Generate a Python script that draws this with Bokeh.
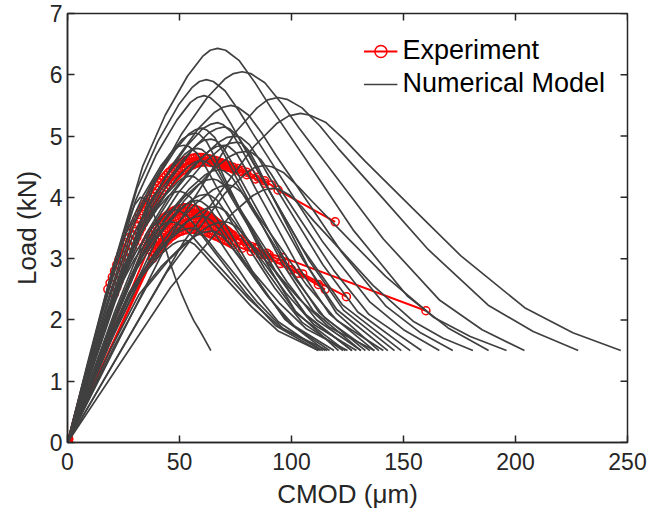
from bokeh.plotting import figure
from bokeh.models import Range1d, FixedTicker, Legend, LegendItem, ColumnDataSource
from bokeh.embed import file_html
from bokeh.resources import INLINE

# ---------------- data ----------------
x_ticks = [0, 50, 100, 150, 200, 250]
y_ticks = [0, 1, 2, 3, 4, 5, 6, 7]

# Experimental curves: (CMOD um, load kN) pairs
exp1 = [(0, 0), (0.1, 0.01), (0.2, 0.03), (0.4, 0.06), (18, 2.50), (19, 2.60), (20, 2.70), (21, 2.80), (22, 2.90),
        (23, 2.99), (24, 3.08), (25, 3.17), (26, 3.26), (27, 3.34), (28, 3.42), (29, 3.50), (30, 3.57), (31, 3.65),
        (32, 3.72), (33, 3.78), (34, 3.85), (35, 3.91), (36, 3.97), (37, 4.03), (38, 4.09), (39, 4.14), (40, 4.19),
        (41, 4.24), (42, 4.28), (43, 4.32), (44, 4.36), (45, 4.40), (46, 4.43), (47, 4.47), (48, 4.50), (49, 4.52),
        (50, 4.55), (51, 4.57), (52, 4.59), (53, 4.60), (54, 4.62), (55, 4.63), (56, 4.64), (57, 4.645), (58, 4.65),
        (59, 4.65), (60, 4.65), (61, 4.64), (62, 4.64), (63, 4.63), (64, 4.62), (65, 4.61), (66, 4.60), (67, 4.59),
        (68, 4.57), (69, 4.56), (70, 4.55), (71, 4.53), (72, 4.52), (74, 4.49), (76, 4.47), (78, 4.44), (80, 4.41),
        (82, 4.38), (85, 4.33), (88, 4.27), (91, 4.20), (94, 4.12), (119.5, 3.60)]
exp2 = [(0, 0), (0.2, 0.02), (0.5, 0.06), (21, 2.43), (22, 2.53), (23, 2.63), (24, 2.73), (25, 2.83), (26, 2.92),
        (27, 3.01), (28, 3.10), (29, 3.19), (30, 3.27), (31, 3.35), (32, 3.43), (33, 3.50), (34, 3.58), (35, 3.65),
        (36, 3.71), (37, 3.78), (38, 3.84), (39, 3.90), (40, 3.96), (41, 4.02), (42, 4.07), (43, 4.12), (44, 4.17),
        (45, 4.21), (46, 4.25), (47, 4.29), (48, 4.33), (49, 4.36), (50, 4.40), (51, 4.43), (52, 4.45), (53, 4.48),
        (54, 4.50), (55, 4.52), (56, 4.53), (57, 4.55), (58, 4.56), (59, 4.57), (60, 4.575), (61, 4.58), (62, 4.58),
        (63, 4.58), (64, 4.57), (65, 4.57), (66, 4.56), (67, 4.55), (68, 4.54), (69, 4.53), (70, 4.52), (71, 4.50),
        (72, 4.49), (73, 4.48), (74, 4.46), (75, 4.45), (77, 4.42), (80, 4.37), (84, 4.30), (88, 4.23)]
exp3 = [(0, 0), (0.2, 0.02), (0.5, 0.05), (34, 3.20), (35, 3.27), (36, 3.33), (37, 3.38), (38, 3.44), (39, 3.49),
        (40, 3.54), (41, 3.58), (42, 3.62), (43, 3.66), (44, 3.69), (45, 3.72), (46, 3.74), (47, 3.77), (48, 3.79),
        (49, 3.80), (50, 3.81), (51, 3.82), (52, 3.83), (53, 3.83), (54, 3.83), (55, 3.82), (56, 3.81), (57, 3.80),
        (58, 3.79), (59, 3.77), (60, 3.75), (61, 3.73), (62, 3.71), (63, 3.69), (64, 3.66), (65, 3.64), (66, 3.61),
        (67, 3.58), (68, 3.55), (69, 3.52), (70, 3.49), (71, 3.46), (72, 3.43), (73, 3.40), (77, 3.32), (82, 3.20),
        (88, 3.06), (95, 2.92), (103, 2.76), (115, 2.50)]
exp4 = [(0, 0), (0.3, 0.03), (36, 3.15), (37, 3.20), (38, 3.25), (39, 3.30), (40, 3.35), (41, 3.39), (42, 3.43),
        (43, 3.47), (44, 3.50), (45, 3.53), (46, 3.56), (47, 3.59), (48, 3.62), (49, 3.64), (50, 3.66), (51, 3.67),
        (52, 3.69), (53, 3.70), (54, 3.71), (55, 3.715), (56, 3.72), (57, 3.72), (58, 3.72), (59, 3.71), (60, 3.70),
        (61, 3.69), (62, 3.68), (63, 3.66), (64, 3.64), (65, 3.62), (66, 3.60), (67, 3.57), (68, 3.55), (69, 3.52),
        (70, 3.49), (71, 3.46), (72, 3.43), (73, 3.40), (74, 3.38), (79, 3.28), (84, 3.18), (90, 3.06), (97, 2.93),
        (105, 2.75), (124.5, 2.38)]
exp5 = [(0, 0), (0.2, 0.02), (38, 3.05), (39, 3.10), (40, 3.15), (41, 3.20), (42, 3.24), (43, 3.28), (44, 3.32),
        (45, 3.36), (46, 3.39), (47, 3.42), (48, 3.45), (49, 3.48), (50, 3.50), (51, 3.52), (52, 3.54), (53, 3.56),
        (54, 3.57), (55, 3.58), (56, 3.59), (57, 3.595), (58, 3.60), (59, 3.60), (60, 3.60), (61, 3.59), (62, 3.58),
        (63, 3.57), (64, 3.56), (65, 3.54), (66, 3.52), (67, 3.50), (68, 3.48), (69, 3.46), (70, 3.44), (71, 3.42),
        (72, 3.40), (73, 3.38), (74, 3.36), (77, 3.30), (80, 3.24), (84, 3.16), (89, 3.09), (96, 3.02), (160, 2.15)]
exp6 = [(0, 0), (0.4, 0.05), (38, 3.00), (39, 3.06), (40, 3.11), (41, 3.16), (42, 3.20), (43, 3.24), (44, 3.28),
        (45, 3.31), (46, 3.35), (47, 3.37), (48, 3.40), (49, 3.42), (50, 3.44), (51, 3.45), (52, 3.47), (53, 3.47),
        (54, 3.48), (55, 3.48), (56, 3.48), (57, 3.47), (58, 3.47), (59, 3.46), (60, 3.45), (61, 3.44), (62, 3.43),
        (63, 3.42), (64, 3.40), (65, 3.39), (66, 3.37), (67, 3.36), (68, 3.34), (69, 3.32), (70, 3.30), (71, 3.29),
        (72, 3.27), (73, 3.25), (74, 3.23), (78, 3.17), (82, 3.12), (86, 3.07), (90, 3.00), (100, 2.82), (112, 2.58)]

# Numerical model curves: CMOD (um) and load (kN), one list per simulated curve
model_cmod = [
    [0, 52, 83.2, 93.6, 98.8, 104, 108.3, 115.4, 124.0, 132.6, 154.1, 175.5, 204.1, 225.6, 247],
    [0, 47, 75.2, 84.6, 89.3, 94, 98.0, 104.7, 112.8, 120.8, 140.9, 161, 187.8, 207.9, 228],
    [0, 23.4, 39, 50.7, 62.4, 70.2, 74.1, 78, 81.8, 88.1, 95.6, 103.2, 122.1, 141, 166.2, 185.1, 204],
    [0, 44, 70.4, 79.2, 83.6, 88, 91.2, 96.6, 103.1, 109.6, 125.8, 142, 163.6, 179.8, 196],
    [0, 20.1, 33.5, 43.6, 53.6, 60.3, 63.7, 67, 70.6, 76.7, 83.9, 91.2, 109.4, 127.5, 151.7, 169.9, 188],
    [0, 46, 73.6, 82.8, 87.4, 92, 94.7, 99.1, 104.5, 109.8, 123.2, 136.5, 154.3, 167.7, 181],
    [0, 21.9, 36.5, 47.5, 58.4, 65.7, 69.4, 73, 76.0, 80.9, 86.9, 92.8, 107.7, 122.5, 142.3, 157.2, 172],
    [0, 18.6, 31, 40.3, 49.6, 55.8, 58.9, 62, 65.1, 70.3, 76.6, 82.8, 98.4, 114, 134.8, 150.4, 166],
    [0, 24, 40, 52, 64, 72, 76, 80, 82.3, 86.2, 90.9, 95.6, 107.3, 119, 134.6, 158],
    [0, 22.5, 37.5, 48.8, 60, 67.5, 71.3, 75, 77.3, 81.2, 85.9, 90.6, 102.3, 114, 129.6, 153],
    [0, 18.3, 30.5, 39.7, 48.8, 54.9, 58.0, 61, 63.6, 68.0, 73.3, 78.6, 91.8, 105, 122.6, 149],
    [0, 21, 35, 45.5, 56, 63, 66.5, 70, 72.3, 76.1, 80.6, 85.2, 96.6, 108, 123.2, 146],
    [0, 20.1, 33.5, 43.6, 53.6, 60.3, 63.7, 67, 69.3, 73.1, 77.6, 82.2, 93.6, 105, 120.2, 143],
    [0, 21.6, 36, 46.8, 57.6, 64.8, 68.4, 72, 74.1, 77.5, 81.7, 85.8, 96.2, 106.5, 120.3, 141],
    [0, 22.8, 38, 49.4, 60.8, 68.4, 72.2, 76, 77.9, 81.0, 84.8, 88.6, 98.1, 107.5, 120.1, 139],
    [0, 21, 35, 45.5, 56, 63, 66.5, 70, 72.0, 75.4, 79.4, 83.4, 93.5, 103.5, 116.9, 137],
    [0, 20.4, 34, 44.2, 54.4, 61.2, 64.6, 68, 70.0, 73.4, 77.4, 81.4, 91.5, 101.5, 114.9, 135],
    [0, 19.2, 32, 41.6, 51.2, 57.6, 60.8, 64, 66.1, 69.5, 73.7, 77.8, 88.2, 98.5, 112.3, 133],
    [0, 18, 30, 39, 48, 54, 57, 60, 62.1, 65.7, 69.9, 74.2, 84.9, 95.5, 109.7, 131],
    [0, 19.8, 33, 42.9, 52.8, 59.4, 62.7, 66, 67.9, 71.0, 74.8, 78.6, 88.1, 97.5, 110.1, 129],
    [0, 18, 30, 39, 48, 54, 57, 60, 62.0, 65.4, 69.4, 73.4, 83.5, 93.5, 106.9, 127],
    [0, 19.2, 32, 41.6, 51.2, 57.6, 60.8, 64, 65.8, 68.9, 72.5, 76.2, 85.4, 94.5, 106.7, 125],
    [0, 15.6, 26, 33.8, 41.6, 46.8, 49.4, 52, 54.2, 57.8, 62.1, 66.4, 77.2, 88, 102.4, 124],
    [0, 18.6, 31, 40.3, 49.6, 55.8, 58.9, 62, 63.8, 66.9, 70.5, 74.2, 83.4, 92.5, 104.7, 123],
    [0, 17.1, 28.5, 37.1, 45.6, 51.3, 54.2, 57, 58.9, 62.1, 66.0, 69.8, 79.4, 89, 101.8, 121],
    [0, 18, 30, 39, 48, 54, 57, 60, 61.8, 64.7, 68.3, 71.8, 80.7, 89.5, 101.3, 119],
    [0, 17.4, 29, 37.7, 46.4, 52.2, 55.1, 58, 59.8, 62.7, 66.3, 69.8, 78.7, 87.5, 99.3, 117],
    [0, 16.5, 27.5, 35.8, 44, 49.5, 52.3, 55, 56.8, 59.8, 63.4, 67, 76, 85, 97, 115],
    [0, 16.5, 27.5, 35.8, 44, 49.5, 52.3, 55, 56.8, 59.7, 63.3, 66.8, 75.7, 84.5, 96.3, 114],
    [0, 15, 25, 32.5, 40, 45, 47.5, 50, 51.9, 55.0, 58.8, 62.6, 72.1, 81.5, 94.1, 113],
    [0, 14.4, 24, 31.2, 38.4, 43.2, 45.6, 48, 49.9, 53.1, 57.0, 60.8, 70.4, 80, 92.8, 112],
    [0, 15.6, 26, 33.8, 41.6, 46.8, 49.4, 52, 53.8, 56.8, 60.4, 64, 73, 82, 94, 112],
    [0, 19.5, 32.5, 42.3, 52, 58.5, 61.8, 65, 67.0, 70.3, 74.2, 78.2, 88.1, 98, 111.2, 131],
    [0, 17.4, 29, 37.7, 46.4, 52.2, 55.1, 58, 60.1, 63.5, 67.7, 71.8, 82.2, 92.5, 106.3, 127],
    [0, 13.8, 23, 29.9, 36.8, 41.4, 43.7, 46, 48.1, 51.6, 55.8, 60, 70.5, 81, 95, 116],
    [0, 21, 35, 45.5, 56, 63, 66.5, 70, 72.0, 75.4, 79.4, 83.4, 93.5, 103.5, 116.9, 137],
    [0, 9, 17, 22, 25, 27.5, 30, 32.5, 34.5, 36.5, 39, 42, 45, 48, 51, 54, 56.5, 58.5, 61, 64],
]
model_load = [
    [0, 3.28, 4.83, 5.21, 5.33, 5.37, 5.34, 5.22, 4.93, 4.60, 3.82, 3.05, 2.20, 1.79, 1.5],
    [0, 3.43, 5.07, 5.46, 5.59, 5.63, 5.60, 5.46, 5.16, 4.80, 3.98, 3.15, 2.24, 1.81, 1.5],
    [0, 2.66, 4.24, 5.02, 5.63, 5.93, 6.02, 6.05, 6.02, 5.87, 5.53, 5.14, 4.23, 3.32, 2.32, 1.84, 1.5],
    [0, 2.76, 4.07, 4.38, 4.49, 4.52, 4.50, 4.40, 4.17, 3.92, 3.31, 2.71, 2.04, 1.73, 1.5],
    [0, 2.83, 4.50, 5.34, 5.98, 6.30, 6.40, 6.43, 6.40, 6.23, 5.86, 5.44, 4.46, 3.47, 2.39, 1.87, 1.5],
    [0, 2.53, 3.74, 4.03, 4.12, 4.15, 4.13, 4.04, 3.85, 3.62, 3.09, 2.56, 1.98, 1.70, 1.5],
    [0, 2.42, 3.85, 4.57, 5.12, 5.39, 5.47, 5.5, 5.47, 5.34, 5.04, 4.70, 3.90, 3.10, 2.22, 1.80, 1.5],
    [0, 2.60, 4.14, 4.91, 5.51, 5.80, 5.89, 5.92, 5.89, 5.74, 5.41, 5.04, 4.15, 3.27, 2.30, 1.83, 1.5],
    [0, 2.09, 3.33, 3.94, 4.42, 4.66, 4.73, 4.75, 4.73, 4.62, 4.38, 4.10, 3.45, 2.80, 2.09, 1.5],
    [0, 2.20, 3.50, 4.15, 4.65, 4.90, 4.98, 5.0, 4.98, 4.86, 4.60, 4.30, 3.60, 2.90, 2.13, 1.5],
    [0, 2.49, 3.96, 4.70, 5.26, 5.55, 5.63, 5.66, 5.63, 5.49, 5.18, 4.83, 4.00, 3.16, 2.25, 1.5],
    [0, 2.27, 3.61, 4.27, 4.79, 5.05, 5.12, 5.15, 5.12, 5.00, 4.73, 4.42, 3.69, 2.96, 2.16, 1.5],
    [0, 2.30, 3.65, 4.33, 4.85, 5.12, 5.19, 5.22, 5.19, 5.07, 4.79, 4.48, 3.73, 2.99, 2.17, 1.5],
    [0, 1.85, 2.94, 3.49, 3.91, 4.12, 4.18, 4.2, 4.18, 4.09, 3.89, 3.66, 3.12, 2.58, 1.99, 1.5],
    [0, 2.16, 3.43, 4.07, 4.56, 4.80, 4.88, 4.9, 4.88, 4.76, 4.51, 4.22, 3.54, 2.86, 2.11, 1.5],
    [0, 1.58, 2.52, 2.99, 3.35, 3.53, 3.58, 3.6, 3.59, 3.52, 3.36, 3.18, 2.76, 2.34, 1.88, 1.5],
    [0, 1.96, 3.12, 3.69, 4.14, 4.36, 4.43, 4.45, 4.43, 4.33, 4.11, 3.86, 3.27, 2.68, 2.03, 1.5],
    [0, 2.18, 3.47, 4.11, 4.60, 4.85, 4.93, 4.95, 4.93, 4.81, 4.55, 4.26, 3.57, 2.88, 2.12, 1.5],
    [0, 2.26, 3.59, 4.26, 4.77, 5.03, 5.10, 5.13, 5.10, 4.98, 4.71, 4.40, 3.68, 2.95, 2.15, 1.5],
    [0, 1.69, 2.70, 3.20, 3.58, 3.77, 3.83, 3.85, 3.83, 3.76, 3.58, 3.38, 2.91, 2.44, 1.92, 1.5],
    [0, 2.02, 3.22, 3.82, 4.28, 4.51, 4.58, 4.6, 4.58, 4.48, 4.24, 3.98, 3.36, 2.74, 2.06, 1.5],
    [0, 1.52, 2.42, 2.86, 3.21, 3.38, 3.43, 3.45, 3.44, 3.37, 3.23, 3.06, 2.67, 2.28, 1.85, 1.5],
    [0, 2.13, 3.40, 4.03, 4.51, 4.75, 4.83, 4.85, 4.83, 4.72, 4.47, 4.18, 3.51, 2.84, 2.10, 1.5],
    [0, 1.78, 2.84, 3.36, 3.77, 3.97, 4.03, 4.05, 4.03, 3.95, 3.76, 3.54, 3.03, 2.52, 1.96, 1.5],
    [0, 2.22, 3.54, 4.19, 4.70, 4.95, 5.02, 5.05, 5.03, 4.91, 4.64, 4.34, 3.63, 2.92, 2.14, 1.5],
    [0, 1.63, 2.59, 3.07, 3.44, 3.63, 3.68, 3.7, 3.68, 3.61, 3.45, 3.26, 2.82, 2.38, 1.90, 1.5],
    [0, 1.74, 2.77, 3.28, 3.67, 3.87, 3.93, 3.95, 3.93, 3.85, 3.67, 3.46, 2.97, 2.48, 1.94, 1.5],
    [0, 1.91, 3.05, 3.61, 4.05, 4.26, 4.33, 4.35, 4.33, 4.24, 4.02, 3.78, 3.21, 2.64, 2.01, 1.5],
    [0, 1.54, 2.45, 2.91, 3.26, 3.43, 3.48, 3.5, 3.49, 3.42, 3.27, 3.10, 2.70, 2.30, 1.86, 1.5],
    [0, 1.80, 2.87, 3.40, 3.81, 4.02, 4.08, 4.1, 4.08, 4.00, 3.80, 3.58, 3.06, 2.54, 1.97, 1.5],
    [0, 1.67, 2.66, 3.15, 3.53, 3.72, 3.78, 3.8, 3.78, 3.71, 3.54, 3.34, 2.88, 2.42, 1.91, 1.5],
    [0, 1.45, 2.31, 2.74, 3.07, 3.23, 3.28, 3.3, 3.29, 3.23, 3.09, 2.94, 2.58, 2.22, 1.82, 1.5],
    [0, 1.89, 3.01, 3.57, 4.00, 4.21, 4.28, 4.3, 4.28, 4.19, 3.98, 3.74, 3.18, 2.62, 2.00, 1.5],
    [0, 2.11, 3.36, 3.98, 4.46, 4.70, 4.78, 4.8, 4.78, 4.67, 4.42, 4.14, 3.48, 2.82, 2.09, 1.5],
    [0, 1.58, 2.52, 2.99, 3.35, 3.53, 3.58, 3.6, 3.59, 3.52, 3.36, 3.18, 2.76, 2.34, 1.88, 1.5],
    [0, 2.13, 3.40, 4.03, 4.51, 4.75, 4.83, 4.85, 4.83, 4.72, 4.47, 4.18, 3.51, 2.84, 2.10, 1.5],
    [0, 1.3, 2.42, 3.05, 3.4, 3.66, 3.88, 4.0, 3.98, 3.88, 3.68, 3.38, 3.02, 2.7, 2.42, 2.17, 1.98, 1.86, 1.7, 1.5],
]

# ---------------- styling ----------------
FONT = "Liberation Sans"
AX = "#262626"
GRAY = "#404040"
RED = "#ff0000"
TICK_X = 3.1    # inward tick length on the top edge, in um (about 7 px)
TICK_Y = 0.115  # inward tick length on the right edge, in kN (about 7 px)

p = figure(width=649, height=518, output_backend="svg", toolbar_location=None,
           x_range=Range1d(0, 250), y_range=Range1d(0, 7),
           min_border_left=67, min_border_right=22, min_border_top=13, min_border_bottom=76)
p.background_fill_color = "white"
p.border_fill_color = "white"
p.outline_line_color = AX
p.outline_line_width = 1.5
p.xgrid.visible = False
p.ygrid.visible = False

for ax in (p.xaxis[0], p.yaxis[0]):
    ax.axis_line_color = AX
    ax.axis_line_width = 1.5
    ax.major_tick_in = 7
    ax.major_tick_out = 0
    ax.major_tick_line_color = AX
    ax.major_tick_line_width = 1.5
    ax.minor_tick_line_color = None
    ax.major_label_text_font = FONT
    ax.major_label_text_color = AX
    ax.major_label_text_font_size = "23px"
    ax.axis_label_text_font = FONT
    ax.axis_label_text_font_style = "normal"
    ax.axis_label_text_color = AX
    ax.axis_label_text_font_size = "26px"

xa = p.xaxis[0]
xa.ticker = FixedTicker(ticks=x_ticks)
xa.axis_label = "CMOD (\u03bcm)"
xa.major_label_standoff = 10
xa.axis_label_standoff = 6

ya = p.yaxis[0]
ya.ticker = FixedTicker(ticks=y_ticks)
ya.axis_label = "Load (kN)"
ya.major_label_standoff = 5
ya.axis_label_standoff = 5

# experiment (drawn first, model lines on top)
exp_line = exp_marks = None
for curve in (exp1, exp2, exp3, exp4, exp5, exp6):
    src = ColumnDataSource(dict(x=[c[0] for c in curve], y=[c[1] for c in curve]))
    lr = p.line("x", "y", source=src, line_color=RED, line_width=2)
    sr = p.scatter("x", "y", source=src, marker="circle", size=8,
                   line_color=RED, fill_color=None, line_width=1.5)
    if exp_line is None:
        exp_line, exp_marks = lr, sr

msrc = ColumnDataSource(dict(xs=model_cmod, ys=model_load))
model_r = p.multi_line("xs", "ys", source=msrc, line_color=GRAY, line_width=1.7)

# box ticks on the top and right edges (MATLAB "box on" look)
y_top = y_ticks[-1]
x_right = x_ticks[-1]
p.segment(x0=x_ticks, y0=[y_top] * len(x_ticks), x1=x_ticks, y1=[y_top - TICK_Y] * len(x_ticks),
          line_color=AX, line_width=1.5)
p.segment(x0=[x_right] * len(y_ticks), y0=y_ticks, x1=[x_right - TICK_X] * len(y_ticks), y1=y_ticks,
          line_color=AX, line_width=1.5)

legend = Legend(items=[LegendItem(label="Experiment", renderers=[exp_line, exp_marks]),
                       LegendItem(label="Numerical Model", renderers=[model_r])],
                location="top_right", border_line_color=None, background_fill_alpha=0,
                label_text_font=FONT, label_text_font_size="27px", label_text_color="#000000",
                glyph_width=34, glyph_height=30, label_height=30, label_standoff=5,
                spacing=2, padding=0, margin=22)
p.add_layout(legend)

open("out.html", "w").write(file_html(p, INLINE))
